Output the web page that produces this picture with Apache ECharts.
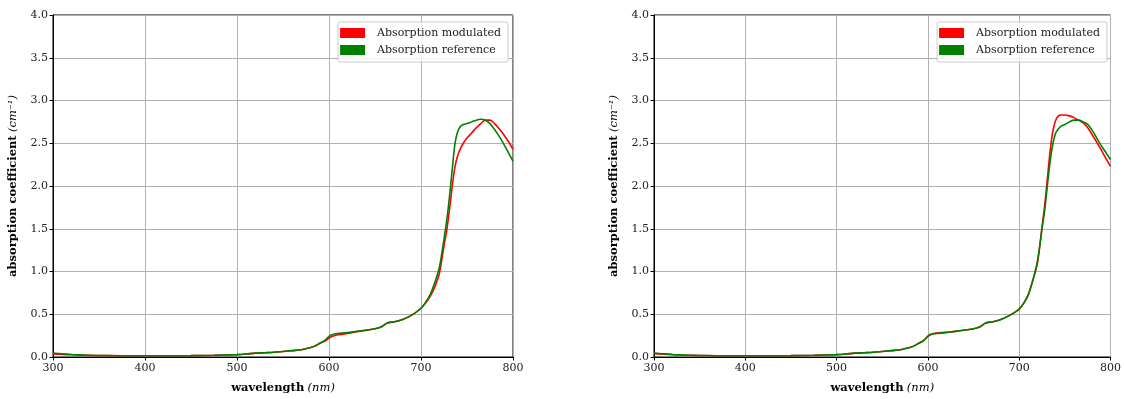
<!DOCTYPE html>
<html>
<head>
<meta charset="utf-8">
<script src="https://cdn.jsdelivr.net/npm/echarts@6/dist/echarts.min.js"></script>
<style>html,body{margin:0;padding:0;background:#fff}#c{width:1124px;height:399px}</style>
</head>
<body>
<div id="c"></div>
<script>
const wavelengths = [300,310,320,330,340,350,375,400,425,450,475,500,510,520,530,540,550,560,570,580,585,590,595,598,600,603,606,610,620,630,640,650,655,658,662,666,670,680,690,700,705,710,715,720,725,728,731,734,737,740,743,746,750,755,760,765,770,775,780,785,790,795,800];

const leftModulated = [0.035,0.03,0.026,0.022,0.019,0.017,0.015,0.015,0.015,0.016,0.02,0.028,0.035,0.045,0.05,0.055,0.065,0.075,0.085,0.11,0.13,0.16,0.185,0.205,0.22,0.24,0.25,0.26,0.275,0.295,0.31,0.33,0.345,0.36,0.39,0.405,0.41,0.44,0.49,0.57,0.63,0.71,0.82,0.98,1.30,1.48,1.73,2.00,2.23,2.36,2.44,2.50,2.56,2.62,2.68,2.73,2.77,2.77,2.73,2.67,2.60,2.52,2.43];
const leftReference = [0.045,0.038,0.03,0.025,0.02,0.018,0.015,0.015,0.015,0.016,0.02,0.028,0.035,0.045,0.05,0.055,0.065,0.075,0.085,0.11,0.13,0.16,0.19,0.22,0.24,0.26,0.27,0.275,0.285,0.30,0.315,0.33,0.345,0.36,0.39,0.405,0.41,0.44,0.49,0.57,0.64,0.73,0.87,1.05,1.38,1.60,1.88,2.20,2.50,2.64,2.70,2.72,2.73,2.75,2.77,2.78,2.77,2.73,2.66,2.58,2.49,2.39,2.29];

const rightModulated = [0.04,0.034,0.028,0.023,0.02,0.018,0.015,0.015,0.015,0.016,0.02,0.028,0.035,0.045,0.05,0.055,0.065,0.075,0.085,0.11,0.13,0.16,0.19,0.22,0.245,0.265,0.275,0.28,0.29,0.30,0.315,0.33,0.345,0.36,0.39,0.405,0.41,0.44,0.49,0.56,0.63,0.73,0.90,1.10,1.52,1.78,2.10,2.42,2.65,2.77,2.82,2.83,2.83,2.82,2.80,2.77,2.74,2.68,2.60,2.51,2.42,2.32,2.23];
const rightReference = [0.045,0.038,0.03,0.025,0.02,0.018,0.015,0.015,0.015,0.016,0.02,0.028,0.035,0.045,0.05,0.055,0.065,0.075,0.085,0.11,0.13,0.16,0.19,0.22,0.24,0.26,0.27,0.275,0.285,0.30,0.315,0.33,0.345,0.36,0.39,0.405,0.41,0.44,0.49,0.56,0.63,0.73,0.90,1.12,1.50,1.72,2.02,2.30,2.50,2.62,2.67,2.70,2.72,2.75,2.77,2.77,2.75,2.72,2.65,2.56,2.47,2.39,2.31];

const xTicks = [300,400,500,600,700,800];
const seriesNames = ['Absorption modulated','Absorption reference'];
const colors = ['#ff0000','#008000'];

const FONT = '"DejaVu Serif", "Liberation Serif", serif';
const pair = (xs, ys) => xs.map((x,i)=>[x, ys[i]]);

function xAxis(gi){
  return {
    type:'value', gridIndex:gi, min:300, max:800, interval:100,
    name:'{b|wavelength} {i|(nm)}', nameLocation:'middle', nameGap:25,
    nameTextStyle:{rich:{b:{fontFamily:FONT,fontWeight:'bold',fontSize:11.5,color:'#000'},i:{fontFamily:FONT,fontStyle:'italic',fontSize:11.5,color:'#000'}}},
    axisLine:{show:true,lineStyle:{color:'#000',width:1}},
    axisTick:{show:true,length:3.5,lineStyle:{color:'#000'}},
    axisLabel:{fontFamily:FONT,fontSize:11,color:'#222',margin:6},
    splitLine:{show:true,lineStyle:{color:'#b0b0b0',width:1}}
  };
}
function yAxis(gi){
  return {
    type:'value', gridIndex:gi, min:0, max:4, interval:0.5,
    name:'{b|absorption coefficient} {i|(cm⁻¹)}', nameLocation:'middle', nameGap:34, nameRotate:90,
    nameTextStyle:{rich:{b:{fontFamily:FONT,fontWeight:'bold',fontSize:11.5,color:'#000'},i:{fontFamily:FONT,fontStyle:'italic',fontSize:11.5,color:'#000'}}},
    axisLine:{show:true,lineStyle:{color:'#000',width:1}},
    axisTick:{show:true,length:3.5,lineStyle:{color:'#000'}},
    axisLabel:{fontFamily:FONT,fontSize:11,color:'#222',margin:5,formatter:v=>v.toFixed(1)},
    splitLine:{show:true,lineStyle:{color:'#b0b0b0',width:1}}
  };
}
function line(name, data, gi, color){
  return {type:'line', name, data, xAxisIndex:gi, yAxisIndex:gi, showSymbol:false, smooth:0.3,
    lineStyle:{color, width:1.6}, itemStyle:{color}, animation:false, z: name===seriesNames[1]?3:2};
}
function legend(right){
  return {data:seriesNames, right, top:22, orient:'vertical', icon:'rect', itemWidth:25, itemHeight:10, itemGap:5,
    padding:[5,7,6,2], backgroundColor:'rgba(255,255,255,0.8)', borderColor:'#ccc', borderWidth:1, borderRadius:2,
    textStyle:{fontFamily:FONT,fontSize:11,lineHeight:12,color:'#222',padding:[0,0,0,7]}, selectedMode:false};
}

const chart = echarts.init(document.getElementById('c'), null, {renderer:'canvas'});
chart.setOption({
  animation:false,
  grid:[
    {left:53,right:611,top:15,bottom:41,show:true,borderColor:'#000',borderWidth:1,backgroundColor:'transparent'},
    {left:654,right:12,top:15,bottom:41,show:true,borderColor:'#000',borderWidth:1,backgroundColor:'transparent'}
  ],
  xAxis:[xAxis(0),xAxis(1)],
  yAxis:[yAxis(0),yAxis(1)],
  legend:[legend(616),legend(17)],
  series:[
    line(seriesNames[0], pair(wavelengths,leftModulated), 0, colors[0]),
    line(seriesNames[1], pair(wavelengths,leftReference), 0, colors[1]),
    line(seriesNames[0], pair(wavelengths,rightModulated), 1, colors[0]),
    line(seriesNames[1], pair(wavelengths,rightReference), 1, colors[1])
  ]
});
</script>
</body>
</html>
